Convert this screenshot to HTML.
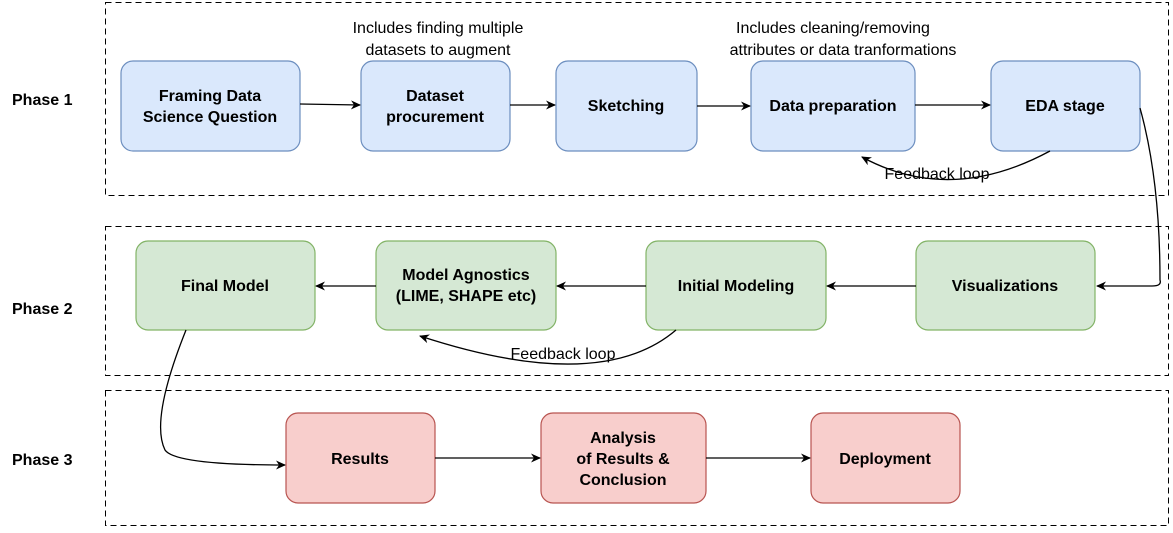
<!DOCTYPE html><html><head><style>body{margin:0;background:#fff;width:1173px;height:528px;overflow:hidden}svg{font-family:"Liberation Sans",Arial,sans-serif}</style></head><body>
<svg width="1173" height="528" xmlns="http://www.w3.org/2000/svg">
<defs><marker id="a" markerWidth="10" markerHeight="10" refX="9" refY="5" orient="auto" markerUnits="userSpaceOnUse"><path d="M0,0.5 L10,5 L0,9.5 L3,5 Z" fill="#000"/></marker></defs>
<g fill="none" stroke="#000" stroke-dasharray="6,4" stroke-width="1">
<rect x="105.5" y="2.5" width="1063" height="193"/>
<rect x="105.5" y="226.5" width="1063" height="149"/>
<rect x="105.5" y="390.5" width="1063" height="135"/>
</g>
<g font-weight="bold" font-size="16" fill="#000">
<text x="12" y="105">Phase 1</text><text x="12" y="314">Phase 2</text><text x="12" y="465">Phase 3</text>
</g>
<g stroke-width="1.2">
<g fill="#dae8fc" stroke="#6c8ebf">
<rect x="121" y="61" width="179" height="90" rx="12"/><rect x="361" y="61" width="149" height="90" rx="12"/><rect x="556" y="61" width="141" height="90" rx="12"/><rect x="751" y="61" width="164" height="90" rx="12"/><rect x="991" y="61" width="149" height="90" rx="12"/>
</g>
<g fill="#d5e8d4" stroke="#82b366">
<rect x="136" y="241" width="179" height="89" rx="12"/><rect x="376" y="241" width="180" height="89" rx="12"/><rect x="646" y="241" width="180" height="89" rx="12"/><rect x="916" y="241" width="179" height="89" rx="12"/>
</g>
<g fill="#f8cecc" stroke="#b85450">
<rect x="286" y="413" width="149" height="90" rx="12"/><rect x="541" y="413" width="165" height="90" rx="12"/><rect x="811" y="413" width="149" height="90" rx="12"/>
</g>
</g>
<g font-weight="bold" font-size="16" text-anchor="middle" fill="#000">
<text x="210" y="101">Framing Data</text><text x="210" y="122">Science Question</text>
<text x="435" y="101">Dataset</text><text x="435" y="122">procurement</text>
<text x="626" y="111">Sketching</text>
<text x="833" y="111">Data preparation</text>
<text x="1065" y="111">EDA stage</text>
<text x="225" y="291">Final Model</text>
<text x="466" y="280">Model Agnostics</text><text x="466" y="301">(LIME, SHAPE etc)</text>
<text x="736" y="291">Initial Modeling</text>
<text x="1005" y="291">Visualizations</text>
<text x="360" y="464">Results</text>
<text x="623" y="443">Analysis</text><text x="623" y="464">of Results &amp;</text><text x="623" y="485">Conclusion</text>
<text x="885" y="464">Deployment</text>
</g>
<g font-size="16" text-anchor="middle" fill="#000">
<text x="438" y="33">Includes finding multiple</text><text x="438" y="55">datasets to augment</text>
<text x="833" y="33">Includes cleaning/removing</text><text x="843" y="55">attributes or data tranformations</text>
<text x="937" y="179">Feedback loop</text>
<text x="563" y="359">Feedback loop</text>
</g>
<g fill="none" stroke="#000" stroke-width="1.3" marker-end="url(#a)">
<path d="M300,104 L360,105"/><path d="M510,105 L555,105"/><path d="M697,106 L750,106"/><path d="M915,105 L990,105"/>
<path d="M1050,151 Q950,205 862,157"/>
<path d="M1140,108 Q1160,180 1160,280 Q1162,286 1152,286 L1097,286"/>
<path d="M916,286 L827,286"/><path d="M646,286 L557,286"/><path d="M376,286 L316,286"/>
<path d="M676,330 Q600,395 420,336"/>
<path d="M186,330 Q150,420 165,450 Q175,465 285,465"/>
<path d="M435,458 L540,458"/><path d="M706,458 L810,458"/>
</g>
</svg></body></html>
